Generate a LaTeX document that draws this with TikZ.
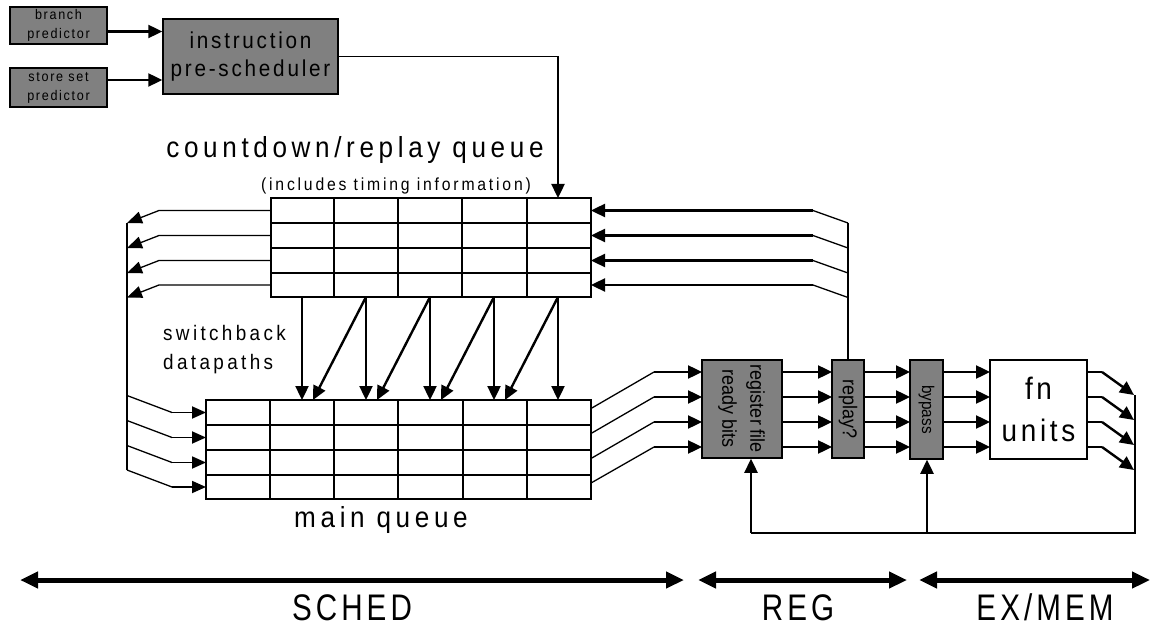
\documentclass[tikz,border=0pt]{standalone}
\usepackage{fontspec}
\usepackage{graphicx}
\setmainfont{Liberation Sans}
\newfontfamily\spfont[FakeStretch=0.9,LetterSpace=16]{Liberation Sans}
\newfontfamily\stfont[FakeStretch=0.8,LetterSpace=11]{Liberation Sans}
\newfontfamily\bxfont[FakeStretch=0.9,LetterSpace=12]{Liberation Sans}
\newfontfamily\nrfont[FakeStretch=0.9]{Liberation Sans}
\usetikzlibrary{arrows.meta}
\definecolor{boxgray}{RGB}{128,128,128}
\begin{document}
\begin{tikzpicture}[x=1pt,y=-1pt,
  thinln/.style={line width=1.3pt},
  thickarr/.style={line width=2.4pt,-{Triangle[length=14pt,width=13pt]}},
  medarr/.style={line width=1.8pt,-{Triangle[length=14pt,width=12pt]}},
  thinarr/.style={line width=1.3pt,-{Triangle[length=15pt,width=12pt]}},
  stagearr/.style={line width=5pt,{Triangle[length=18pt,width=16pt]}-{Triangle[length=18pt,width=16pt]}},
  gbox/.style={draw,fill=boxgray,line width=1.5pt,inner sep=0pt,align=center},
  qbox/.style={draw,line width=1.5pt,inner sep=0pt},
  gridln/.style={line width=1.5pt}]
\useasboundingbox (0,0) rectangle (1151,628);
\fill[white] (0,0) rectangle (1151,628);

% ---- top boxes
\node[gbox,minimum width=97pt,minimum height=37pt,font=\bxfont\fontsize{14}{19}\selectfont] (bp) at (58.5,25.5) {branch\\predictor};
\node[gbox,minimum width=97pt,minimum height=39pt,font=\bxfont\fontsize{14}{19}\selectfont] (ssp) at (58.5,87.5) {store set\\predictor};
\node[gbox,minimum width=175pt,minimum height=75pt,font=\bxfont\fontsize{23}{28}\selectfont] (ips) at (250.5,56.5) {instruction\\pre-scheduler};

\draw[thickarr] ([yshift=-6pt]bp.east) -- ([yshift=-6pt]bp.east -| ips.west);
\draw[thickarr] ([yshift=7.5pt]ssp.east) -- ([yshift=7.5pt]ssp.east -| ips.west);

% ---- queues
\node[qbox,minimum width=320pt,minimum height=99pt] (cq) at (431,247.5) {};
\node[qbox,minimum width=385pt,minimum height=99pt] (mq) at (398.5,449.5) {};
\foreach \x in {334,398,462,527} \draw[gridln] (\x,198) -- (\x,297);
\foreach \y in {223,248,273} \draw[gridln] (271,\y) -- (591,\y);
\foreach \x in {270,334,398,463,527} \draw[gridln] (\x,400) -- (\x,499);
\foreach \y in {425,450,475} \draw[gridln] (206,\y) -- (591,\y);

% ---- labels
\node[font=\spfont\fontsize{29}{34}\selectfont,anchor=base] (cqlabel) at (355,158) {countdown/replay queue};
\node[font=\spfont\fontsize{17.5}{20}\selectfont,anchor=base] (cqsub) at (396,191) {(includes timing information)};
\node[font=\spfont\fontsize{21}{29}\selectfont,align=left,anchor=west,inner sep=0pt] (sw) at (163,350) {switchback\\datapaths};
\node[font=\spfont\fontsize{29}{34}\selectfont,anchor=base] (mql) at (381,527) {main queue};

% ---- pre-scheduler into countdown queue
\coordinate (ipsC) at (558,56.5);
\coordinate (cqIn) at (558,198);
\draw[thinln] (ips.east) -- (ipsC);
\draw[thickarr] (ipsC) -- (cqIn);

% ---- left outputs of countdown queue
\foreach \y [count=\i] in {210.5,235.5,260.5,285}{
  \coordinate (cqL\i) at (271,\y);
  \coordinate (bL\i) at (159,\y);
  \coordinate (tL\i) at (127,\y+12.5);
  \draw[thinarr] (cqL\i) -- (bL\i) -- (tL\i);
}
\coordinate (spT) at (127,223);
\coordinate (spB) at (127,470);
\draw[thinln] (spT) -- (spB);
\foreach \y [count=\i] in {412.5,437.5,462.5,487}{
  \coordinate (sL\i) at (127,\y-17);
  \coordinate (kL\i) at (172,\y);
  \coordinate (mqL\i) at (206,\y);
  \draw[thinln] (sL\i) -- (kL\i);
  \draw[medarr] (kL\i) -- (mqL\i);
}

% ---- switchback datapaths
\foreach \x [count=\i] in {302,366,430,494,558}{
  \coordinate (ct\i) at (\x,297);
  \coordinate (mt\i) at (\x,400);
  \draw[thickarr] (ct\i) -- (mt\i);
}
\foreach \i/\x in {2/302,3/366,4/430,5/494}{
  \coordinate (dt\i) at (\x+11,400);
  \draw[thickarr] (ct\i) -- (dt\i);
}

% ---- pipeline boxes
\node[gbox,minimum width=80pt,minimum height=98pt,font=\nrfont\fontsize{20}{28}\selectfont] (rf) at (742,409)
  {\rotatebox{-90}{\begin{tabular}{@{}c@{}}register file\\ready bits\end{tabular}}};
\node[gbox,minimum width=32pt,minimum height=98pt,font=\nrfont\fontsize{20}{22}\selectfont] (rp) at (848,409) {\rotatebox{-90}{replay?}};
\node[gbox,minimum width=33pt,minimum height=99pt,font=\nrfont\fontsize{17}{20}\selectfont] (bps) at (926.5,409.5) {\rotatebox{-90}{bypass}};
\node[draw,fill=white,line width=1.5pt,minimum width=97pt,minimum height=99pt,inner sep=0pt,align=center,font=\bxfont\fontsize{31}{42}\selectfont] (fn) at (1038.5,409.5) {fn\\units};

% ---- feedback into countdown queue (replay)
\foreach \y [count=\i] in {210.5,235.5,260.5,285}{
  \coordinate (cqR\i) at (591,\y);
  \coordinate (fR\i) at (813,\y);
  \coordinate (gR\i) at (848,\y+12.5);
  \draw[thinln] (gR\i) -- (fR\i);
  \draw[thickarr] (fR\i) -- (cqR\i);
}
\coordinate (gTop) at (848,223);
\draw[thinln] (rp.north) -- (gTop);

% ---- main queue to register file
\foreach \y/\a [count=\i] in {408.5/372,433.5/397,458.5/422,483/447}{
  \coordinate (mqR\i) at (591,\y);
  \coordinate (hR\i) at (654,\a);
  \coordinate (rfI\i) at (702,\a);
  \draw[thinln] (mqR\i) -- (hR\i);
  \draw[thickarr] (hR\i) -- (rfI\i);
}

% ---- between pipeline boxes
\foreach \a [count=\i] in {372,397,422,447}{
  \coordinate (rfO\i) at (782,\a); \coordinate (rpI\i) at (832,\a);
  \coordinate (rpO\i) at (864,\a); \coordinate (bpI\i) at (910,\a);
  \coordinate (bpO\i) at (943,\a); \coordinate (fnI\i) at (990,\a);
  \coordinate (fnO\i) at (1087,\a); \coordinate (fnK\i) at (1102,\a);
  \coordinate (fnT\i) at (1134,\a+23);
  \draw[thickarr] (rfO\i) -- (rpI\i);
  \draw[thickarr] (rpO\i) -- (bpI\i);
  \draw[thickarr] (bpO\i) -- (fnI\i);
  \draw[thinln] (fnO\i) -- (fnK\i);
  \draw[thickarr] (fnK\i) -- (fnT\i);
}

% ---- result feedback
\coordinate (fbTop) at (1135,395);
\coordinate (fbCorner) at (1135,533);
\coordinate (fbRF) at (751,533);
\coordinate (fbBP) at (927,533);
\draw[thinln] (fbTop) -- (fbCorner) -- (fbRF);
\draw[thickarr] (fbRF) -- (fbRF |- rf.south);
\draw[thickarr] (fbBP) -- (fbBP |- bps.south);

% ---- stages
\coordinate (s1a) at (20,580); \coordinate (s1b) at (684,580);
\coordinate (s2a) at (698,580); \coordinate (s2b) at (907,580);
\coordinate (s3a) at (919,580); \coordinate (s3b) at (1150,580);
\draw[stagearr] (s1a) -- (s1b);
\draw[stagearr] (s2a) -- (s2b);
\draw[stagearr] (s3a) -- (s3b);
\node[font=\stfont\fontsize{37}{40}\selectfont,anchor=base,inner sep=0pt] (sched) at (352,620) {SCHED};
\node[font=\stfont\fontsize{37}{40}\selectfont,anchor=base,inner sep=0pt] (reg) at (798,620) {REG};
\node[font=\stfont\fontsize{37}{40}\selectfont,anchor=base,inner sep=0pt] (exmem) at (1045,620) {EX/MEM};
\end{tikzpicture}
\end{document}
